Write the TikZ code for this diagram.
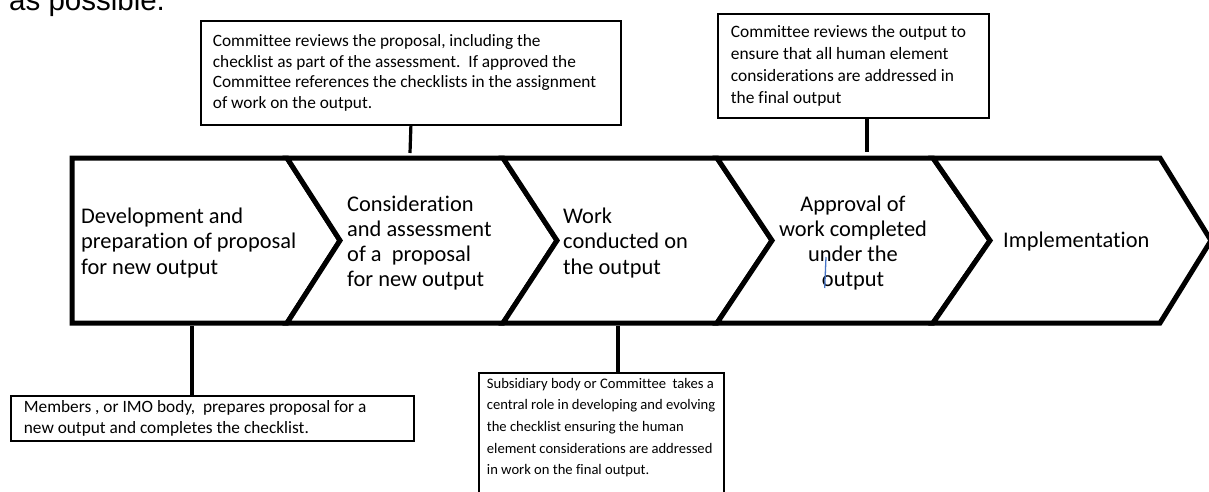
\documentclass[tikz,border=0pt]{standalone}
\usepackage{fontspec}
\setmainfont{Carlito}[Ligatures=CommonOff]
\newfontfamily\arialfont{Liberation Sans}
\definecolor{cursorblue}{RGB}{68,114,196}
\begin{document}
\begin{tikzpicture}[x=1pt,y=-1pt,
  chev/.style={draw=black, line width=5pt, line join=miter, fill=white},
  chevtext/.style={font=\fontsize{22.4}{25.3}\selectfont, inner sep=0pt, align=left, anchor=west},
  note/.style={draw=black, line width=1.8pt, font=\fontsize{17.3}{21}\selectfont, align=flush left, anchor=north west, fill=white, inner ysep=5pt},
  link/.style={line width=3.2pt, draw=black},
  cursor/.style={line width=1.3pt, draw=cursorblue}]
\useasboundingbox (0,0) rectangle (1209,491);

% page text cut off at the top
\node[anchor=base west, inner sep=0pt, font=\arialfont\fontsize{29.5}{30}\selectfont] (pagetext) at (9,10) {as possible.};

% chevrons
\draw[chev] (72,158) -- (287,158) -- (340,240.5) -- (287,323) -- (72,323) -- cycle;
\draw[chev] (287,158) -- (503,158) -- (557,240.5) -- (503,323) -- (287,323) -- (340,240.5) -- cycle;
\draw[chev] (503,158) -- (717,158) -- (772,240.5) -- (717,323) -- (503,323) -- (557,240.5) -- cycle;
\draw[chev] (717,158) -- (933,158) -- (990,240.5) -- (933,323) -- (717,323) -- (772,240.5) -- cycle;
\draw[chev] (933,158) -- (1160,158) -- (1211,240.5) -- (1160,323) -- (933,323) -- (990,240.5) -- cycle;

\node[chevtext] (c1) at (81,243) {Development and\\preparation of proposal\\for new output};
\node[chevtext] (c2) at (347,243) {Consideration\\and assessment\\of a\ \ proposal\\for new output};
\node[chevtext] (c3) at (563,243) {Work\\conducted on\\the output};
\node[chevtext, anchor=center, align=center] (c4) at (853,243) {Approval of\\work completed\\under the\\output};
\node[chevtext] (c5) at (1003,242) {Implementation};
\draw[cursor] (826,257) -- (824.7,288);

% note boxes
\node[note, text width=396pt, inner xsep=12pt, minimum height=104pt, font=\fontsize{17.3}{20.6}\selectfont] (n1) at (200,20)
  {\mbox{Committee reviews the proposal, including the}\\\mbox{checklist as part of the assessment.\ \ If approved the}\\\mbox{Committee references the checklists in the assignment}\\\mbox{of work on the output.}};
\node[note, text width=245pt, inner xsep=13pt, minimum height=104pt, font=\fontsize{17.4}{21.7}\selectfont] (n2) at (717,13)
  {\mbox{Committee reviews the output to}\\\mbox{ensure that all human element}\\\mbox{considerations are addressed in}\\\mbox{the final output}};
\node[note, text width=377pt, inner xsep=13pt, font=\fontsize{17.3}{20.5}\selectfont] (n3) at (10,395)
  {\mbox{Members , or IMO body,\ \ prepares proposal for a}\\\mbox{new output and completes the checklist.}};
\node[note, text width=229pt, inner xsep=8pt, font=\fontsize{14.6}{21.7}\selectfont] (n4) at (478,372)
  {\mbox{Subsidiary body or Committee\ \ takes a}\\\mbox{central role in developing and evolving}\\\mbox{the checklist ensuring the human}\\\mbox{element considerations are addressed}\\\mbox{in work on the final output.}\\[12pt]\mbox{}};

% connectors
\coordinate (t1) at (410,153);
\coordinate (t2) at (867,152);
\coordinate (b1) at (192,326);
\coordinate (b2) at (618,326);
\draw[link] (n1.south) -- (t1);
\draw[link] (n2.south -| t2) -- (t2);
\draw[link] (b1) -- (b1 |- n3.north);
\draw[link] (b2) -- (b2 |- n4.north);
\end{tikzpicture}
\end{document}
